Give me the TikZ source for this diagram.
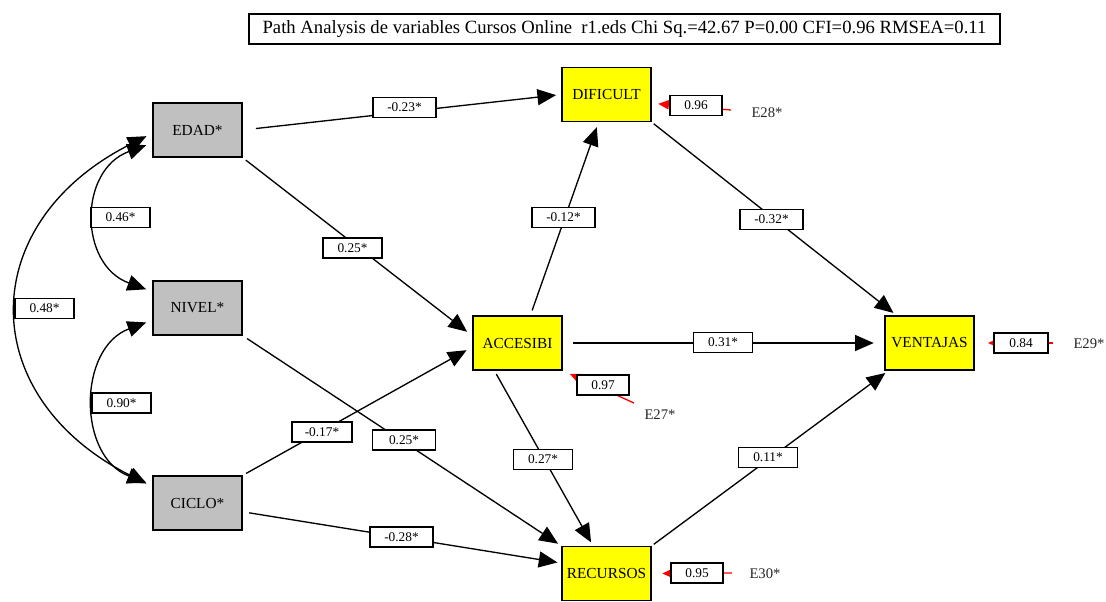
\documentclass[tikz,border=0pt]{standalone}
\usepackage{fontspec}
\setmainfont{Liberation Serif}
\usetikzlibrary{arrows.meta}
\definecolor{boxgray}{HTML}{C0C0C0}
\definecolor{boxyellow}{HTML}{FFFF00}
\definecolor{errred}{HTML}{FF0000}
\begin{document}
\begin{tikzpicture}[x=0.75pt,y=-0.75pt,
  var/.style={draw,line width=0.9pt,minimum width=66.75pt,minimum height=40.5pt,inner sep=0pt,font=\fontsize{11.5}{12}\selectfont},
  exo/.style={var,fill=boxgray},
  endo/.style={var,fill=boxyellow},
  lab/.style={draw,fill=white,line width=0.9pt,minimum width=44.25pt,minimum height=15pt,inner sep=0pt,font=\fontsize{10}{11}\selectfont},
  nlab/.style={lab,minimum width=47.25pt},
  elab/.style={lab,minimum width=39pt},
  conn/.style={line width=1pt,-{Triangle[length=14pt,width=12pt]}},
  cov/.style={line width=1pt,{Triangle[length=14pt,width=12pt]}-{Triangle[length=14pt,width=12pt]},shorten <=5pt,shorten >=5pt},
  err/.style={draw=errred,line width=1pt,-{Triangle[length=8pt,width=7pt]}},
  etxt/.style={font=\fontsize{11}{12}\selectfont,text=black!85,inner sep=0pt}
]
\useasboundingbox (0,0) rectangle (1106,601);

\node[draw,line width=0.8pt,minimum width=563.25pt,minimum height=22.5pt,inner sep=0pt,font=\fontsize{14}{15}\selectfont] (title) at (624.5,29) {Path Analysis de variables Cursos Online\ \ r1.eds Chi Sq.=42.67 P=0.00 CFI=0.96 RMSEA=0.11};

% variables
\node[exo] (edad) at (197.5,130) {EDAD*};
\node[exo] (nivel) at (197.5,308) {NIVEL*};
\node[exo] (ciclo) at (197.5,503) {CICLO*};
\node[endo] (dificult) at (606.5,94.5) {DIFICULT};
\node[endo] (accesibi) at (517.5,343) {ACCESIBI};
\node[endo] (ventajas) at (929.5,343) {VENTAJAS};
\node[endo] (recursos) at (606.5,573.5) {RECURSOS};

% error terms
\node[etxt] (e28) at (767,113) {E28*};
\node[etxt] (e27) at (660,415) {E27*};
\node[etxt] (e29) at (1089,344) {E29*};
\node[etxt] (e30) at (765,574) {E30*};
\coordinate (s28) at (731,110);
\coordinate (s27) at (634,403);
\coordinate (s29) at (1053,343);
\coordinate (s30) at (732,573);
\draw[err,shorten >=5pt] (s28) -- (dificult.349);
\draw[err,shorten >=6pt] (s27) -- (accesibi.south east);
\draw[err,shorten >=10pt] (s29) -- (ventajas.east);
\draw[err,shorten >=8pt] (s30) -- (recursos.east);

% paths
\draw[conn,shorten <=10pt,shorten >=4pt] (edad.east) -- (dificult.west);
\draw[conn,shorten <=3pt,shorten >=5pt] (edad.south east) -- (accesibi.171);
\draw[conn,shorten <=4pt,shorten >=4pt] (accesibi.65) -- (dificult.254);
\draw[conn,shorten <=2pt,shorten >=3pt] (dificult.south east) -- (ventajas.140);
\draw[conn,shorten <=8pt,shorten >=8pt] (accesibi.east) -- (ventajas.west);
\draw[conn,shorten <=3pt,shorten >=3pt] (accesibi.230) -- (recursos.116);
\draw[conn,shorten <=4pt,shorten >=3pt] (nivel.south east) -- (recursos.north west);
\draw[conn,shorten <=3pt,shorten >=5pt] (ciclo.north east) -- (accesibi.185);
\draw[conn,shorten <=5pt,shorten >=3pt] (ciclo.349) -- (recursos.167);
\draw[conn,shorten <=2pt,shorten >=3pt] (recursos.north east) -- (ventajas.214);

% covariances
\draw[cov] (edad.196) .. controls +(-74,27) and +(-74,-27) .. (nivel.160);
\draw[cov] (nivel.195) .. controls +(-75,28) and +(-75,-28) .. (ciclo.158);
\draw[cov] (edad.184) .. controls +(-178,90) and +(-178,-90) .. (ciclo.160);

% labels
\node[lab] (c46) at (120.5,217.5) {0.46*};
\node[lab] (c90) at (121.5,403) {0.90*};
\node[lab] (c48) at (44.5,308.5) {0.48*};
\node[nlab] (p1) at (404.5,107.5) {-0.23*};
\node[lab] (p2) at (352.5,248) {0.25*};
\node[nlab] (p3) at (563.5,217.5) {-0.12*};
\node[nlab] (p4) at (771.5,219.5) {-0.32*};
\node[lab] (p5) at (723,342.5) {0.31*};
\node[lab,minimum width=45pt] (p6) at (322,432) {-0.17*};
\node[nlab] (p7) at (404,440) {0.25*};
\node[lab] (p8) at (543,459.5) {0.27*};
\node[lab] (p9) at (768,457.5) {0.11*};
\node[nlab] (p10) at (401.5,537) {-0.28*};
\node[elab] (l28) at (696,105.5) {0.96};
\node[elab] (l27) at (603,385) {0.97};
\node[elab,minimum width=40.5pt] (l29) at (1021,343) {0.84};
\node[elab] (l30) at (697,573) {0.95};
\end{tikzpicture}
\end{document}
